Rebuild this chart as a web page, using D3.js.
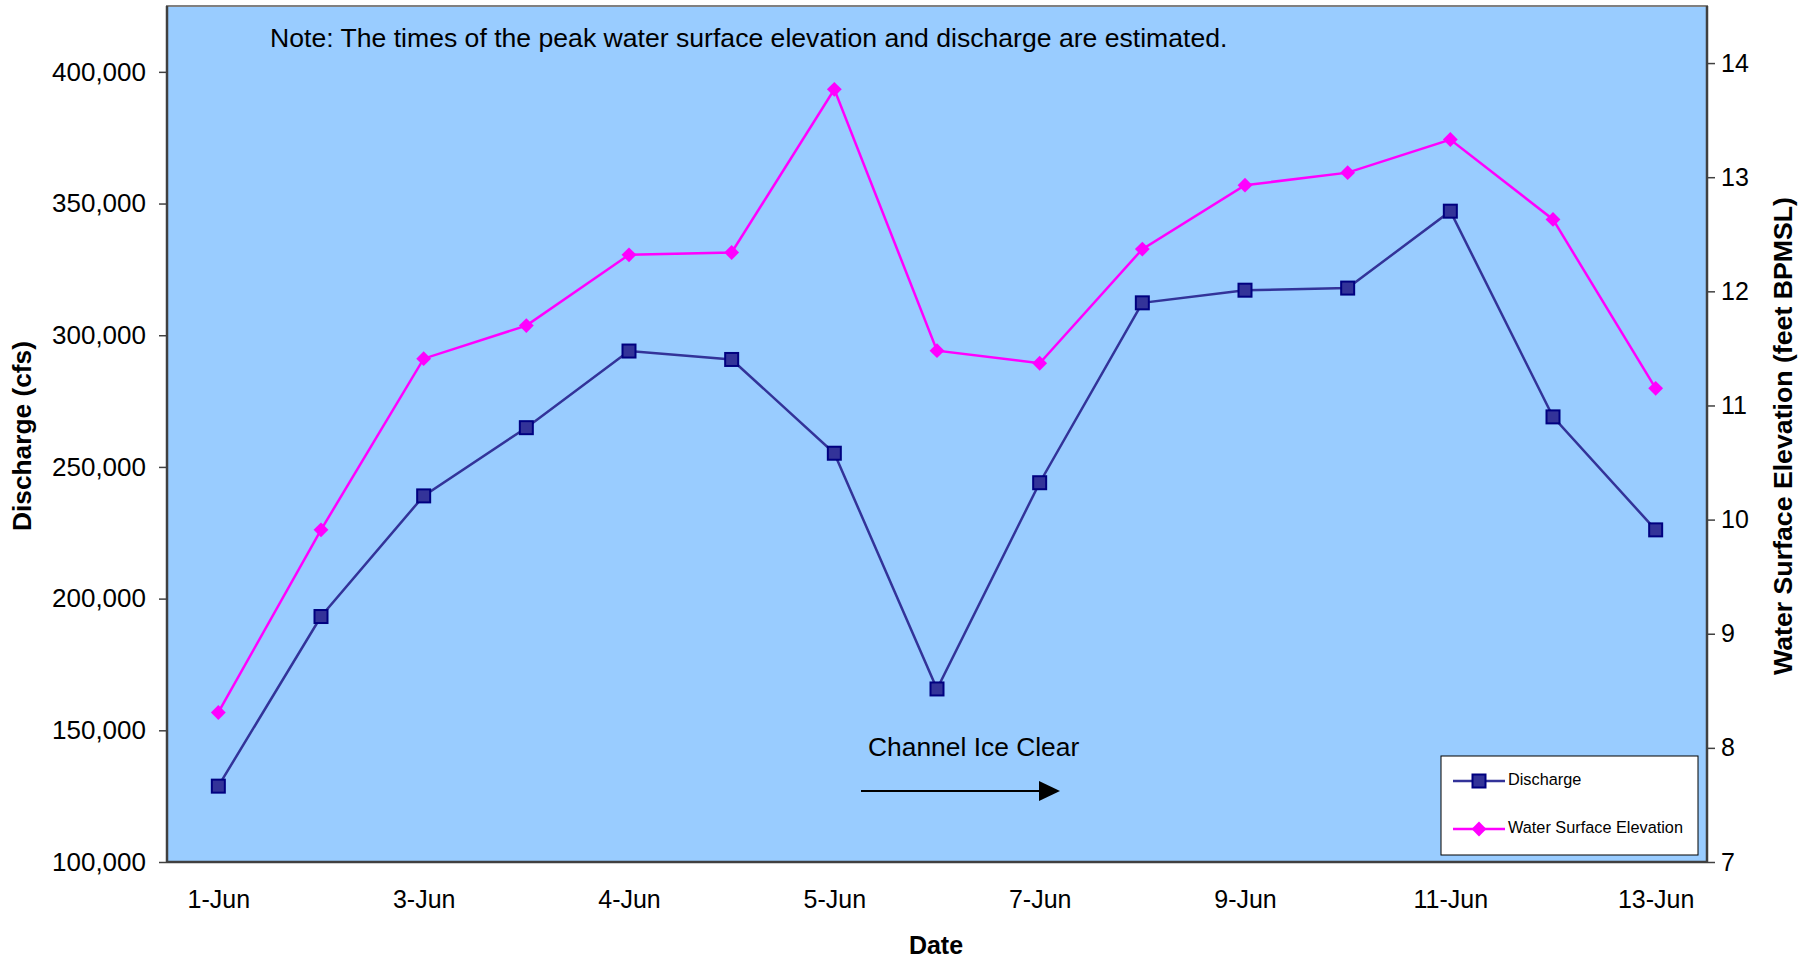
<!DOCTYPE html>
<html>
<head>
<meta charset="utf-8">
<script src="https://cdn.jsdelivr.net/npm/d3@7"></script>
<style>
  html, body { margin: 0; padding: 0; background: #fff; }
  svg { display: block; font-family: Arial, "Liberation Sans", sans-serif; }
</style>
</head>
<body>
<svg id="chart" width="1807" height="964"></svg>
<script>
// ---- data ----
const categories = ["1-Jun","2-Jun","3-Jun","3-Jun","4-Jun","4-Jun","5-Jun","6-Jun","7-Jun","8-Jun","9-Jun","10-Jun","11-Jun","12-Jun","13-Jun"];
const labeledIndices = [0, 2, 4, 6, 8, 10, 12, 14];
const discharge = [128800, 193200, 239000, 264900, 294000, 290800, 255200, 165700, 244000, 312300, 317100, 317900, 347100, 269000, 226100];
const elevation = [8.31, 9.91, 11.41, 11.70, 12.32, 12.34, 13.77, 11.48, 11.37, 12.37, 12.93, 13.04, 13.33, 12.63, 11.15];
const leftTicks = [100000, 150000, 200000, 250000, 300000, 350000, 400000];
const rightTicks = [7, 8, 9, 10, 11, 12, 13, 14];
const seriesNames = ["Discharge", "Water Surface Elevation"];
const noteText = "Note: The times of the peak water surface elevation and discharge are estimated.";
const annotationText = "Channel Ice Clear";

// ---- layout ----
const plot = { left: 167, top: 6, right: 1707, bottom: 862 };
const svg = d3.select("#chart");

const x = d3.scalePoint()
  .domain(d3.range(categories.length))
  .range([plot.left, plot.right])
  .padding(0.5);
const yL = d3.scaleLinear().domain([100000, 425000]).range([plot.bottom, plot.top]);
const yR = d3.scaleLinear().domain([7, 14.5]).range([plot.bottom, plot.top]);

// plot background
svg.append("rect")
  .attr("x", plot.left).attr("y", plot.top)
  .attr("width", plot.right - plot.left).attr("height", plot.bottom - plot.top)
  .attr("fill", "#99CCFF")
  .attr("stroke", "#808080").attr("stroke-width", 2);

// axes
const fmt = d3.format(",");
const gL = svg.append("g").attr("transform", `translate(${plot.left},0)`)
  .call(d3.axisLeft(yL).tickValues(leftTicks).tickFormat(fmt).tickSize(8).tickPadding(13));
const gR = svg.append("g").attr("transform", `translate(${plot.right},0)`)
  .call(d3.axisRight(yR).tickValues(rightTicks).tickFormat(d3.format("d")).tickSize(8).tickPadding(6));
const gB = svg.append("g").attr("transform", `translate(0,${plot.bottom})`)
  .call(d3.axisBottom(x).tickValues(labeledIndices).tickFormat(i => categories[i]).tickSize(0).tickPadding(28));

[gL, gR, gB].forEach(g => {
  g.selectAll("path.domain").attr("stroke", "#404040").attr("stroke-width", 2.5);
  g.selectAll(".tick line").attr("stroke", "#404040").attr("stroke-width", 1.5);
  g.selectAll("text").attr("font-size", 25).attr("fill", "#000")
    .attr("font-family", "Arial, 'Liberation Sans', sans-serif");
});
gL.selectAll("text").attr("font-size", 26);
gB.select("path.domain").attr("d", `M${plot.left},0H${plot.right}`);
gL.select("path.domain").attr("d", `M0,${plot.top}V${plot.bottom}`);
gR.select("path.domain").attr("d", `M0,${plot.top}V${plot.bottom}`);

// axis titles
svg.append("text")
  .attr("transform", `translate(31,436) rotate(-90)`)
  .attr("text-anchor", "middle").attr("font-weight", "bold").attr("font-size", 26.3)
  .text("Discharge (cfs)");
svg.append("text")
  .attr("transform", `translate(1792,436) rotate(-90)`)
  .attr("text-anchor", "middle").attr("font-weight", "bold").attr("font-size", 26.7)
  .text("Water Surface Elevation (feet BPMSL)");
svg.append("text")
  .attr("x", 936).attr("y", 954)
  .attr("text-anchor", "middle").attr("font-weight", "bold").attr("font-size", 25)
  .text("Date");

// note
svg.append("text")
  .attr("x", 270).attr("y", 47)
  .attr("font-size", 26.6)
  .text(noteText);

// annotation with arrow
svg.append("text")
  .attr("x", 868).attr("y", 756)
  .attr("font-size", 26.4)
  .text(annotationText);
svg.append("line")
  .attr("x1", 861).attr("x2", 1040).attr("y1", 791).attr("y2", 791)
  .attr("stroke", "#000").attr("stroke-width", 2);
svg.append("path")
  .attr("d", "M1039,781L1060,791L1039,801Z").attr("fill", "#000");

// series
const lineL = d3.line().x((d, i) => x(i)).y(d => yL(d));
const lineR = d3.line().x((d, i) => x(i)).y(d => yR(d));

svg.append("path").datum(discharge)
  .attr("d", lineL).attr("fill", "none")
  .attr("stroke", "#333399").attr("stroke-width", 2.5);
svg.append("path").datum(elevation)
  .attr("d", lineR).attr("fill", "none")
  .attr("stroke", "#FF00FF").attr("stroke-width", 2.5);

const sq = 13;
svg.append("g").selectAll("rect").data(discharge).join("rect")
  .attr("x", (d, i) => x(i) - sq / 2).attr("y", d => yL(d) - sq / 2)
  .attr("width", sq).attr("height", sq)
  .attr("fill", "#333399").attr("stroke", "#000080").attr("stroke-width", 2);

svg.append("g").selectAll("path").data(elevation).join("path")
  .attr("transform", (d, i) => `translate(${x(i)},${yR(d)}) rotate(45)`)
  .attr("d", d3.symbol().type(d3.symbolSquare).size(110))
  .attr("fill", "#FF00FF");

// legend
const lg = svg.append("g");
lg.append("rect")
  .attr("x", 1441).attr("y", 756).attr("width", 257).attr("height", 99)
  .attr("fill", "#fff").attr("stroke", "#000").attr("stroke-width", 1);
const legendRows = [
  { name: seriesNames[0], y: 781, color: "#333399" },
  { name: seriesNames[1], y: 829, color: "#FF00FF" }
];
legendRows.forEach((r, k) => {
  lg.append("line").attr("x1", 1453).attr("x2", 1505).attr("y1", r.y).attr("y2", r.y)
    .attr("stroke", r.color).attr("stroke-width", 2.5);
  if (k === 0) {
    lg.append("rect").attr("x", 1479 - 6.5).attr("y", r.y - 6.5).attr("width", 13).attr("height", 13)
      .attr("fill", "#333399").attr("stroke", "#000080").attr("stroke-width", 2);
  } else {
    lg.append("path").attr("transform", `translate(1479,${r.y}) rotate(45)`)
      .attr("d", d3.symbol().type(d3.symbolSquare).size(110)).attr("fill", "#FF00FF");
  }
  lg.append("text").attr("x", 1508).attr("y", r.y + 4)
    .attr("font-size", 16.3).text(r.name);
});
</script>
</body>
</html>
